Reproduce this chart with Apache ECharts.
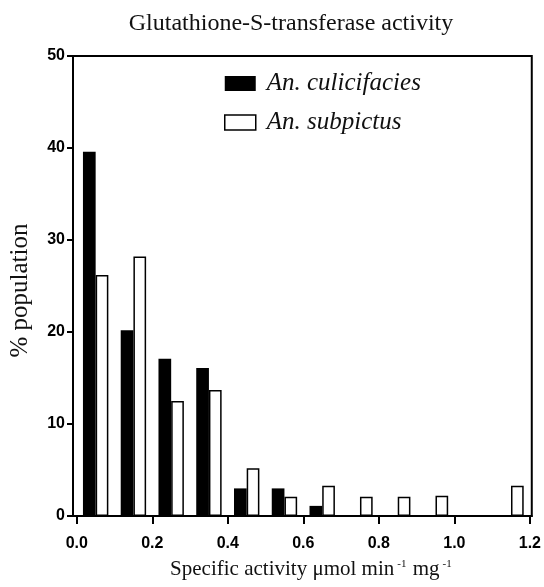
<!DOCTYPE html>
<html>
<head>
<meta charset="utf-8">
<script src="https://cdn.jsdelivr.net/npm/echarts@6/dist/echarts.min.js"></script>
<style>
  html, body { margin: 0; padding: 0; background: #fff; }
  #chart { width: 544px; height: 587px; }
</style>
</head>
<body>
<div id="chart"></div>
<script>
// Histogram bins (centre of each 0.1 activity class)
const binCenters = [0.05, 0.15, 0.25, 0.35, 0.45, 0.55, 0.65, 0.75, 0.85, 0.95, 1.05, 1.15];
// % population per class
const culicifacies = [39.6, 20.2, 17.1, 16.1, 3.0, 3.0, 1.1, 0, 0, 0, 0, 0];
const subpictus    = [26.2, 28.2, 12.5, 13.7, 5.2, 2.1, 3.3, 2.1, 2.1, 2.2, 0, 3.3];
// Axis ticks
const xTicks = [0, 0.2, 0.4, 0.6, 0.8, 1.0, 1.2];

const serif = '"Liberation Serif", "DejaVu Serif", serif';
const sans = '"Liberation Sans", Arial, sans-serif';

const chart = echarts.init(document.getElementById('chart'), null, { renderer: 'canvas' });

chart.setOption({
  backgroundColor: '#fff',
  animation: false,
  title: {
    text: 'Glutathione-S-transferase activity',
    left: 286,
    textAlign: 'center',
    top: 7,
    textStyle: { fontFamily: serif, fontSize: 24, fontWeight: 'normal', color: '#111' }
  },
  legend: {
    orient: 'vertical',
    left: 219,
    top: 66,
    itemWidth: 31,
    itemHeight: 15,
    itemGap: 14,
    icon: 'rect',
    textStyle: {
      fontFamily: serif, fontSize: 25, lineHeight: 25, fontStyle: 'italic', color: '#111',
      padding: [0, 0, 0, 6]
    },
    data: [
      { name: 'An. culicifacies', itemStyle: { color: '#000' } },
      { name: 'An. subpictus', itemStyle: { color: '#fff', borderColor: '#000', borderWidth: 1.5 } }
    ]
  },
  grid: {
    left: 72, right: 9, top: 56, bottom: 71,
    show: true, borderColor: '#000', borderWidth: 2
  },
  xAxis: {
    type: 'value',
    min: -0.01,
    max: 1.205,
    name: '{t|Specific activity μmol min}{s|-1}{t| mg}{s|-1}',
    nameLocation: 'middle',
    nameGap: 43,
    nameTextStyle: {
      rich: {
        t: { fontFamily: serif, fontSize: 21, color: '#111', verticalAlign: 'bottom' },
        s: { fontFamily: serif, fontSize: 11, color: '#111', verticalAlign: 'top', padding: [0, 1, 0, 3] }
      },
      padding: [0, 0, 0, 18]
    },
    splitLine: { show: false },
    axisLine: { onZero: false, lineStyle: { color: '#000', width: 2 } },
    axisTick: { customValues: xTicks, length: 8, lineStyle: { color: '#000', width: 2 } },
    axisLabel: {
      customValues: xTicks,
      formatter: v => v.toFixed(1),
      fontFamily: sans, fontWeight: 'bold', fontSize: 16, color: '#000', margin: 20
    }
  },
  yAxis: {
    type: 'value',
    min: 0,
    max: 50,
    interval: 10,
    name: '% population',
    nameLocation: 'middle',
    nameGap: 40,
    nameTextStyle: { fontFamily: serif, fontSize: 25, color: '#111', padding: [0, 9, 0, 0] },
    splitLine: { show: false },
    axisLine: { show: true, onZero: false, lineStyle: { color: '#000', width: 2 } },
    axisTick: { show: true, length: 6, lineStyle: { color: '#000', width: 2 } },
    axisLabel: { fontFamily: sans, fontWeight: 'bold', fontSize: 16, color: '#000', margin: 8 }
  },
  series: [
    {
      name: 'An. culicifacies',
      type: 'bar',
      barWidth: 12.7,
      barGap: '0%',
      itemStyle: { color: '#000' },
      data: binCenters.map((x, i) => [x, culicifacies[i]])
    },
    {
      name: 'An. subpictus',
      type: 'bar',
      barWidth: 12.7,
      barGap: '0%',
      itemStyle: { color: '#fff', borderColor: '#000', borderWidth: 1.5 },
      data: binCenters.map((x, i) => [x, subpictus[i]])
    }
  ]
});
</script>
</body>
</html>
